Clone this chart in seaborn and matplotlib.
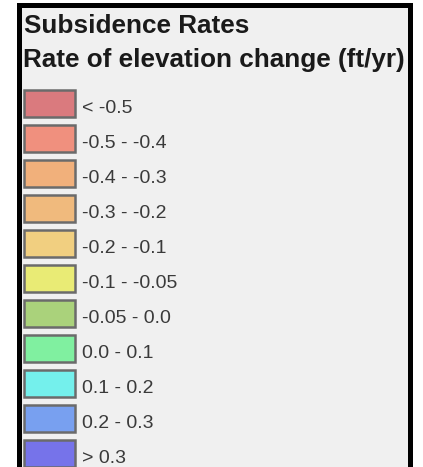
import pandas as pd
import matplotlib
matplotlib.use("Agg")
import matplotlib.pyplot as plt
from matplotlib.patches import Rectangle
import seaborn as sns

# legend content
title = "Subsidence Rates"
subtitle = "Rate of elevation change (ft/yr)"
ranges = ["< -0.5", "-0.5 - -0.4", "-0.4 - -0.3", "-0.3 - -0.2", "-0.2 - -0.1",
          "-0.1 - -0.05", "-0.05 - 0.0", "0.0 - 0.1", "0.1 - 0.2", "0.2 - 0.3",
          "> 0.3"]
colors = ["#da7a7e", "#f0907e", "#f1b07b", "#f0ba7d", "#f1cf80", "#e9eb75",
          "#aad27b", "#80f0a0", "#74f0ec", "#78a0f0", "#7673ea"]

W, H = 423, 467
SWATCH_W = 51


def fx(px):
    return px / W


def fy(py):
    return 1 - py / H


plt.rcParams["font.family"] = ["Liberation Sans", "DejaVu Sans"]

fig = plt.figure(figsize=(W / 100, H / 100), dpi=100)
fig.patch.set_facecolor("white")

# framed grey panel, open at the bottom
box = Rectangle((fx(18.5), fy(490)), fx(391), (490 - 5.5) / H,
                transform=fig.transFigure, facecolor="#f0f0f0",
                edgecolor="black", linewidth=3.6, joinstyle="miter", zorder=0)
fig.patches.append(box)

fig.text(fx(24), fy(33), title, fontsize=18.8, fontweight="bold",
         color="#1a1a1a", va="baseline", ha="left")
fig.text(fx(23), fy(67), subtitle, fontsize=18.8, fontweight="bold",
         color="#1a1a1a", va="baseline", ha="left")

ax = fig.add_axes([0, 0, 1, 1])
ax.set_zorder(2)

df = pd.DataFrame({"range": ranges, "swatch": [SWATCH_W] * len(ranges)})
sns.barplot(data=df, x="swatch", y="range", hue="range", palette=colors,
            legend=False, width=0.77, saturation=1, errorbar=None,
            edgecolor="#6b6b6b", linewidth=1.8, ax=ax)

for i, lab in enumerate(ranges):
    ax.text(58.5, i + 0.27, lab, fontsize=14, color="#3a3a3a",
            va="baseline", ha="left")

# map data units onto the picture: x in pixels from swatch edge, y in rows
ax.set_xlim(-23.5, W - 23.5)
ax.set_ylim((H - 103.5) / 35, -103.5 / 35)
ax.axis("off")

fig.savefig("out.png", dpi=100)
